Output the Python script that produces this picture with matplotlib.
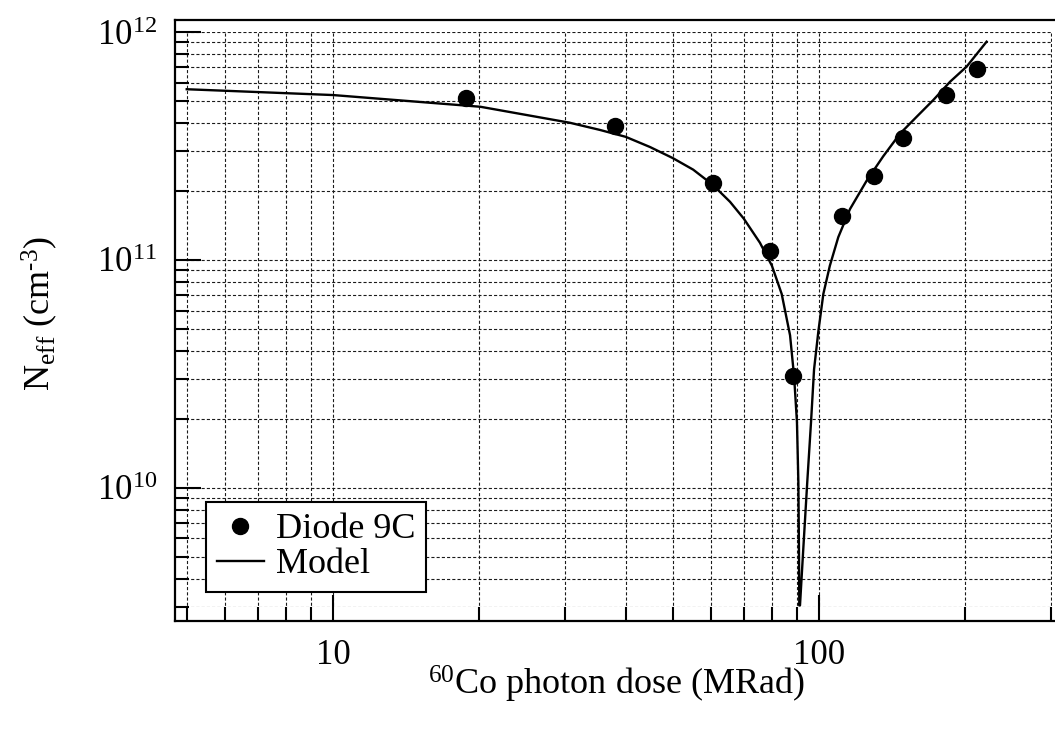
import matplotlib
matplotlib.use('Agg')
import matplotlib.pyplot as plt
from matplotlib.patches import Rectangle
from matplotlib.ticker import FormatStrFormatter, NullFormatter

plt.rcParams['font.family'] = 'serif'
plt.rcParams['font.serif'] = ['Liberation Serif', 'DejaVu Serif']
plt.rcParams['mathtext.fontset'] = 'custom'
plt.rcParams['mathtext.rm'] = 'Liberation Serif'
plt.rcParams['mathtext.it'] = 'Liberation Serif:italic'
plt.rcParams['mathtext.bf'] = 'Liberation Serif:bold'

# measured points, diode 9C
dose = [18.8, 38.0, 60.4, 79.3, 88.5, 111.7, 130.0, 149.1, 182.3, 211.4]
neff = [5.15e11, 3.88e11, 2.18e11, 1.09e11, 3.1e10, 1.56e11, 2.34e11, 3.42e11, 5.29e11, 6.86e11]

# model curve (|Neff| goes through zero near 91 MRad)
model_dose = [5.0, 10.0, 20.1, 30.7, 35.4, 40.0, 44.9, 50.0, 55.1, 60.4, 65.6, 70.0, 75.6,
              80.0, 83.8, 87.2, 88.9, 90.1, 90.7, 90.96, 91.1,
              91.4, 92.8, 94.6, 96.3, 97.7, 99.7, 102.1, 105.3, 109.6, 115.8, 125.4, 135.6,
              146.8, 158.9, 171.9, 186.1, 201.3, 221.3]
model_neff = [5.61e11, 5.29e11, 4.70e11, 4.0e11, 3.72e11, 3.47e11, 3.13e11, 2.80e11, 2.49e11,
              2.14e11, 1.80e11, 1.52e11, 1.19e11, 9.44e10, 7.1e10, 4.67e10, 3.07e10, 1.94e10,
              1.06e10, 5.32e9, 3.05e9,
              3.05e9, 5.32e9, 1.06e10, 1.94e10, 3.31e10, 4.85e10, 7.1e10, 9.44e10, 1.26e11,
              1.67e11, 2.23e11, 2.85e11, 3.58e11, 4.25e11, 5.03e11, 6.05e11, 7.05e11, 9.07e11]

fig = plt.figure(figsize=(10.55, 7.38), dpi=100)
ax = fig.add_axes([0.1659, 0.1592, 0.8341, 0.8137])
ax.set_xscale('log')
ax.set_yscale('log')
ax.set_xlim(4.73, 306)
ax.set_ylim(2.62e9, 1.129e12)

line, = ax.plot(model_dose, model_neff, color='k', lw=1.7, label='Model', zorder=3)
pts, = ax.plot(dose, neff, 'o', color='k', ms=11.5, label='Diode 9C', zorder=4)

ax.spines['right'].set_visible(False)
for s in ['left', 'top', 'bottom']:
    ax.spines[s].set_linewidth(1.6)

ax.tick_params(which='both', direction='in', top=False, right=False, width=1.5, labelsize=25)
ax.tick_params(which='major', length=19)
ax.tick_params(which='minor', length=10)
ax.tick_params(axis='x', pad=13.5)
ax.tick_params(axis='y', pad=13)
ax.xaxis.set_major_formatter(FormatStrFormatter('%g'))
ax.xaxis.set_minor_formatter(NullFormatter())
ax.yaxis.set_minor_formatter(NullFormatter())

ax.grid(True, which='both', color='0.1', lw=0.8, linestyle=(0, (2.8, 1.9)))

ax.set_xlabel('$^{60}$Co photon dose (MRad)', fontsize=26)
ax.set_ylabel(r'N$_{\mathrm{eff}}$ (cm$^{\text{-}3}$)', fontsize=26)
ax.xaxis.set_label_coords(0.5017, -0.072)
ax.yaxis.set_label_coords(-0.131, 0.511)

leg = ax.legend(handles=[pts, line], loc='lower left', bbox_to_anchor=(0.0349, 0.047),
                borderaxespad=0, fancybox=False, edgecolor='k', framealpha=1,
                fontsize=26, handlelength=1.3, handletextpad=0.35, borderpad=0.3,
                labelspacing=0.05, numpoints=1)
leg.get_frame().set_linewidth(1.5)
leg.set_zorder(10)

# grid only inside the 5..300 x 3e9..1e12 box, like the original
fig.canvas.draw()
box = Rectangle((4.98, 2.99e9), 301.5 - 4.98, 1.005e12 - 2.99e9, transform=ax.transData)
for t in (ax.xaxis.get_major_ticks() + ax.xaxis.get_minor_ticks()
          + ax.yaxis.get_major_ticks() + ax.yaxis.get_minor_ticks()):
    t.gridline.set_clip_path(box)

fig.savefig('out.png', dpi=100)
